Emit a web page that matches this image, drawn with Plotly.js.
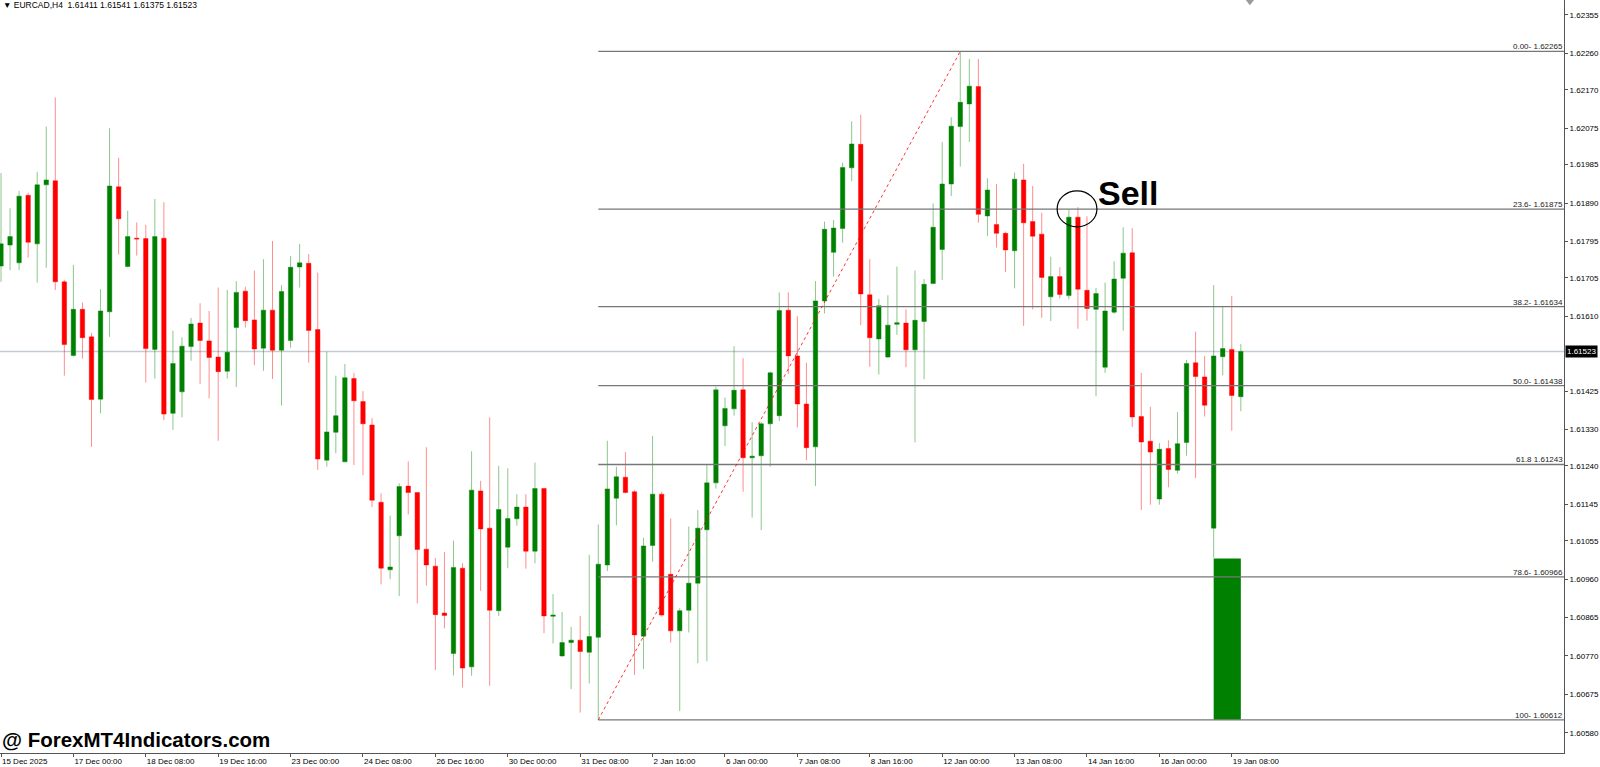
<!DOCTYPE html>
<html><head><meta charset="utf-8">
<script src="https://cdn.plot.ly/plotly-3.0.1.min.js"></script>
<style>html,body{margin:0;padding:0;background:#fff;overflow:hidden}#chart{width:1600px;height:767px}</style>
</head><body><div id="chart"></div>
<script>
const symbolName = 'EURCAD,H4';
const openP = [1.61734,1.61786,1.61742,1.61909,1.61789,1.61935,1.61945,1.61695,1.61513,1.61627,
1.61559,1.61405,1.61621,1.61930,1.61733,1.61803,1.61802,1.61528,1.61803,1.61370,
1.61423,1.61535,1.61593,1.61549,1.61509,1.61474,1.61582,1.61672,1.61601,1.61531,
1.61625,1.61526,1.61550,1.61732,1.61741,1.61577,1.61254,1.61323,1.61250,1.61456,
1.61399,1.61341,1.61150,1.60983,1.61067,1.61190,1.61174,1.61034,1.60992,1.60876,
1.60776,1.60987,1.60743,1.61178,1.61086,1.60882,1.61039,1.61109,1.61138,1.61029,
1.61184,1.60868,1.60770,1.60803,1.60809,1.60779,1.60816,1.60995,1.61160,1.61212,
1.61176,1.60819,1.61043,1.61170,1.60972,1.60832,1.60883,1.60950,1.61082,1.61198,
1.61339,1.61381,1.61428,1.61260,1.61265,1.61344,1.61364,1.61625,1.61512,1.61393,
1.61287,1.61648,1.61768,1.61827,1.61977,1.62035,1.61663,1.61554,1.61509,1.61590,
1.61593,1.61527,1.61597,1.61691,1.61775,1.61937,1.62079,1.62135,1.62178,1.61858,
1.61837,1.61815,1.61772,1.61947,1.61844,1.61813,1.61658,1.61708,1.61661,1.61855,
1.61674,1.61627,1.61484,1.61620,1.61704,1.61767,1.61362,1.61301,1.61158,1.61283,
1.61229,1.61298,1.61495,1.61460,1.61086,1.61510,1.61528,1.61411];
const highP = [1.61964,1.61877,1.61920,1.61915,1.61967,1.62079,1.62151,1.61700,1.61737,1.61644,
1.61569,1.61677,1.62075,1.62002,1.61871,1.61842,1.61836,1.61900,1.61892,1.61574,
1.61558,1.61606,1.61642,1.61623,1.61681,1.61675,1.61697,1.61683,1.61723,1.61751,
1.61796,1.61687,1.61759,1.61789,1.61764,1.61718,1.61522,1.61463,1.61492,1.61470,
1.61425,1.61358,1.61172,1.61117,1.61197,1.61251,1.61175,1.61286,1.61012,1.61027,
1.61055,1.60999,1.61276,1.61203,1.61360,1.61240,1.61234,1.61170,1.61170,1.61248,
1.61186,1.60923,1.60879,1.60842,1.60869,1.61020,1.61095,1.61302,1.61238,1.61274,
1.61180,1.61062,1.61314,1.61176,1.61110,1.60888,1.61090,1.61131,1.61244,1.61436,
1.61409,1.61536,1.61506,1.61348,1.61348,1.61473,1.61669,1.61669,1.61610,1.61495,
1.61697,1.61844,1.61848,1.61990,1.62092,1.62108,1.61751,1.61653,1.61662,1.61733,
1.61627,1.61723,1.61702,1.61889,1.62041,1.62102,1.62265,1.62246,1.62246,1.61951,
1.61937,1.61819,1.61965,1.61987,1.61932,1.61866,1.61757,1.61731,1.61873,1.61880,
1.61857,1.61680,1.61693,1.61746,1.61830,1.61828,1.61470,1.61386,1.61296,1.61303,
1.61373,1.61502,1.61572,1.61512,1.61687,1.61634,1.61660,1.61541];
const lowP = [1.61695,1.61724,1.61724,1.61755,1.61693,1.61730,1.61675,1.61463,1.61510,1.61505,
1.61287,1.61370,1.61559,1.61763,1.61731,1.61760,1.61446,1.61456,1.61353,1.61329,
1.61360,1.61500,1.61442,1.61407,1.61302,1.61456,1.61435,1.61582,1.61489,1.61475,
1.61455,1.61389,1.61532,1.61681,1.61495,1.61230,1.61238,1.61271,1.61249,1.61242,
1.61217,1.61138,1.60947,1.60960,1.60918,1.61120,1.60900,1.60944,1.60735,1.60838,
1.60722,1.60692,1.60721,1.60931,1.60696,1.60869,1.60987,1.61092,1.60986,1.60999,
1.60826,1.60801,1.60768,1.60688,1.60630,1.60702,1.60612,1.60980,1.61093,1.61172,
1.60723,1.60738,1.61003,1.60867,1.60803,1.60634,1.60828,1.60752,1.60757,1.61184,
1.61289,1.61364,1.61176,1.61112,1.61081,1.61238,1.61351,1.61467,1.61335,1.61254,
1.61190,1.61617,1.61708,1.61792,1.61944,1.61588,1.61485,1.61466,1.61507,1.61564,
1.61484,1.61298,1.61454,1.61689,1.61700,1.61907,1.61980,1.62041,1.61841,1.61808,
1.61780,1.61719,1.61679,1.61586,1.61627,1.61606,1.61598,1.61654,1.61652,1.61579,
1.61599,1.61412,1.61470,1.61616,1.61574,1.61336,1.61131,1.61144,1.61144,1.61187,
1.61221,1.61265,1.61210,1.61362,1.61013,1.61464,1.61327,1.61375];
const closeP = [1.61789,1.61807,1.61907,1.61793,1.61935,1.61947,1.61695,1.61540,1.61627,1.61557,
1.61404,1.61623,1.61932,1.61851,1.61807,1.61801,1.61530,1.61807,1.61368,1.61493,
1.61536,1.61591,1.61550,1.61508,1.61473,1.61521,1.61669,1.61599,1.61529,1.61625,
1.61526,1.61671,1.61731,1.61742,1.61575,1.61257,1.61324,1.61364,1.61458,1.61401,
1.61344,1.61155,1.60987,1.60990,1.61189,1.61174,1.61033,1.60995,1.60872,1.60870,
1.60989,1.60740,1.61180,1.61084,1.60883,1.61132,1.61110,1.61138,1.61029,1.61184,
1.60869,1.60871,1.60803,1.60809,1.60781,1.60818,1.60997,1.61183,1.61213,1.61174,
1.60822,1.61042,1.61170,1.60871,1.60832,1.60882,1.60950,1.61086,1.61198,1.61428,
1.61382,1.61427,1.61260,1.61264,1.61344,1.61470,1.61624,1.61512,1.61393,1.61285,
1.61648,1.61825,1.61828,1.61978,1.62036,1.61665,1.61557,1.61636,1.61588,1.61594,
1.61527,1.61600,1.61689,1.61830,1.61937,1.62080,1.62139,1.62179,1.61862,1.61922,
1.61815,1.61774,1.61949,1.61841,1.61808,1.61706,1.61708,1.61664,1.61855,1.61677,
1.61629,1.61666,1.61623,1.61702,1.61766,1.61361,1.61299,1.61274,1.61281,1.61231,
1.61295,1.61493,1.61461,1.61390,1.61512,1.61530,1.61414,1.61523];

const timeLabels = ['15 Dec 2025','17 Dec 00:00','18 Dec 08:00','19 Dec 16:00','23 Dec 00:00','24 Dec 08:00',
'26 Dec 16:00','30 Dec 00:00','31 Dec 08:00','2 Jan 16:00','6 Jan 00:00','7 Jan 08:00','8 Jan 16:00',
'12 Jan 00:00','13 Jan 08:00','14 Jan 16:00','16 Jan 00:00','19 Jan 08:00'];
const barsPerLabel = 8;
const priceTicks = [1.62355,1.62260,1.62170,1.62075,1.61985,1.61890,1.61795,1.61705,1.61610,
1.61425,1.61330,1.61240,1.61145,1.61055,1.60960,1.60865,1.60770,1.60675,1.60580];

const fibBars = [66, 106];
const fibRatios = [0, 0.236, 0.382, 0.5, 0.618, 0.786, 1];
const fibTags = ['0.00-', '23.6-', '38.2-', '50.0-', '61.8', '78.6-', '100-'];
const signalBoxBars = [134, 137];
const signalBoxPrices = [1.61011, 1.60612];
const signalText = 'Sell';

const n = openP.length;
const xIdx = openP.map((_, i) => i);
const xRange = [-0.11, 172.71];
const yRange = [1.60530, 1.62392];

const fibLow = lowP[fibBars[0]];
const fibHigh = highP[fibBars[1]];
const fibPrices = fibRatios.map(r => fibHigh - r * (fibHigh - fibLow));
const lastClose = closeP[n - 1];

const GREEN = '#008000', RED = '#ff0000';
const trace = {
  type: 'candlestick', x: xIdx, open: openP, high: highP, low: lowP, close: closeP,
  increasing: {line: {color: 'rgba(0,128,0,0.45)', width: 1}, fillcolor: GREEN},
  decreasing: {line: {color: 'rgba(255,0,0,0.45)', width: 1}, fillcolor: RED},
  whiskerwidth: 0, hoverinfo: 'skip', showlegend: false
};

const shapes = [];
shapes.push({type: 'line', xref: 'paper', yref: 'y', x0: 0, x1: 1, y0: lastClose, y1: lastClose,
  line: {color: '#c4cbd3', width: 1.5}, layer: 'below'});
shapes.push({type: 'rect', xref: 'x', yref: 'y', x0: signalBoxBars[0], x1: signalBoxBars[1],
  y0: signalBoxPrices[0], y1: signalBoxPrices[1], fillcolor: GREEN, line: {width: 0}, layer: 'above'});
fibPrices.forEach(p => shapes.push({type: 'line', xref: 'x', yref: 'y', x0: fibBars[0], x1: xRange[1],
  y0: p, y1: p, line: {color: '#777777', width: 1.3}, layer: 'above'}));
shapes.push({type: 'line', xref: 'x', yref: 'y', x0: fibBars[0], y0: fibLow, x1: fibBars[1], y1: fibHigh,
  line: {color: 'rgba(255,0,0,0.8)', width: 1, dash: 'dot'}, layer: 'above'});
shapes.push({type: 'circle', xref: 'x', yref: 'y', x0: 116.7, x1: 121.1, y0: 1.61831, y1: 1.61920,
  line: {color: '#000', width: 1.2}, layer: 'above'});
// chart-shift marker at the top edge
shapes.push({type: 'path', xref: 'x', yref: 'paper', path: 'M 137.55 1 L 138.45 1 L 138 0.993 Z',
  fillcolor: '#9a9a9a', line: {width: 0}, layer: 'above'});

const small = {family: 'Liberation Sans, Arial, sans-serif', size: 8, color: '#000'};
const annotations = [];
fibPrices.forEach((p, i) => annotations.push({xref: 'paper', yref: 'y', x: 1, y: p, xanchor: 'right', yanchor: 'bottom',
  text: fibTags[i] + ' ' + p.toFixed(5), showarrow: false, font: {family: small.family, size: 8, color: '#222'}, borderpad: 0, yshift: -1}));
annotations.push({xref: 'paper', yref: 'y', x: 1, y: lastClose, xanchor: 'left', yanchor: 'middle', xshift: 1,
  text: lastClose.toFixed(5), showarrow: false, bgcolor: '#000', borderpad: 1, font: {family: small.family, size: 8, color: '#fff'}});
annotations.push({xref: 'paper', yref: 'paper', x: 0, y: 1, xanchor: 'left', yanchor: 'top', xshift: 2, yshift: 1,
  text: '\u25BC ' + symbolName + '\u00a0\u00a0' + [openP[n-1], highP[n-1], lowP[n-1], closeP[n-1]].map(v => v.toFixed(5)).join(' '),
  showarrow: false, font: {family: small.family, size: 8.5, color: '#000'}, borderpad: 0});
annotations.push({xref: 'paper', yref: 'paper', x: 0, y: 0, xanchor: 'left', yanchor: 'bottom', xshift: 1, yshift: 1,
  text: '<b>@ ForexMT4Indicators.com</b>', showarrow: false, font: {family: 'Liberation Sans, Arial, sans-serif', size: 20.5, color: '#000'}, borderpad: 0});
annotations.push({xref: 'x', yref: 'y', x: 121.1, y: 1.61915, xanchor: 'left', yanchor: 'middle',
  text: '<b>' + signalText + '</b>', showarrow: false, font: {family: 'Liberation Sans, Arial, sans-serif', size: 34, color: '#000'}, borderpad: 0});

const layout = {
  width: 1600, height: 767,
  margin: {l: 0, r: 36, t: 0, b: 14, pad: 0},
  paper_bgcolor: '#fff', plot_bgcolor: '#fff', showlegend: false, hovermode: false,
  xaxis: {type: 'linear', range: xRange, showgrid: false, zeroline: false, showline: true, mirror: true,
    linecolor: '#555', linewidth: 1, ticks: 'outside', ticklen: 3, tickcolor: '#555',
    tickvals: timeLabels.map((_, i) => i * barsPerLabel), ticktext: timeLabels,
    ticklabelposition: 'outside right', tickfont: small, rangeslider: {visible: false}, automargin: false, fixedrange: true},
  yaxis: {side: 'right', range: yRange, showgrid: false, zeroline: false, showline: true, mirror: true,
    linecolor: '#555', linewidth: 1, ticks: 'outside', ticklen: 3, tickcolor: '#555',
    tickvals: priceTicks, ticktext: priceTicks.map(v => v.toFixed(5)), tickfont: small, automargin: false, fixedrange: true},
  shapes: shapes, annotations: annotations
};
Plotly.newPlot('chart', [trace], layout, {displayModeBar: false, staticPlot: true});
</script></body></html>
